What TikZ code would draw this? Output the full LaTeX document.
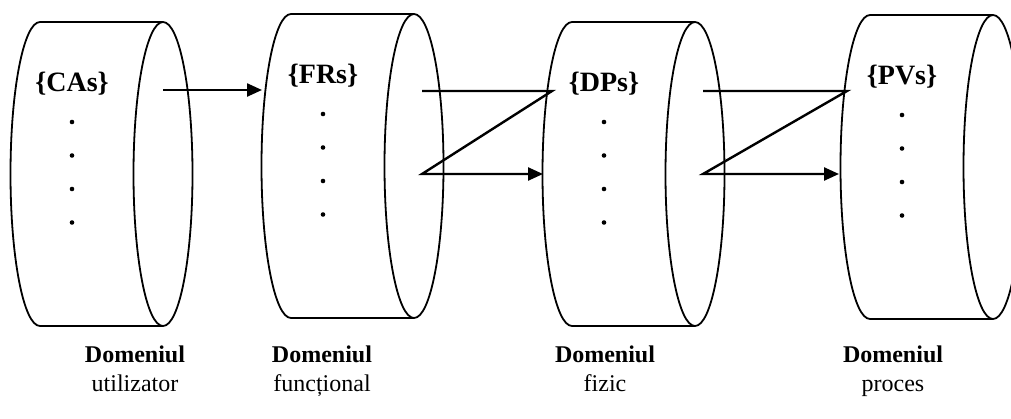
\documentclass[tikz,border=0pt]{standalone}
\usepackage{fontspec}
\setmainfont{Liberation Serif}
\usetikzlibrary{arrows.meta}

% A drum lying on its side: #1 name, #2 left x, #3 top y, #4 bottom y, #5 set label
\newcommand\drum[5]{%
  \draw[drumline] (#2,#3) -- ({#2+123},#3)
    (#2,#4) -- ({#2+123},#4)
    (#2,#3) arc[start angle=90, end angle=270, x radius=29.5pt, y radius=152pt];
  \draw[drumline] ({#2+123},{(#3+#4)/2}) ellipse[x radius=29.5pt, y radius=152pt];
  \node[setlabel] (#1) at ({#2+32},{#3+69}) {\{#5\}};
  \foreach \k/\dy in {1/100,2/133.5,3/167,4/200.5}
    \node[dotmark] (#1-dot\k) at ({#2+32},{#3+\dy}) {};
}

\begin{document}
\begin{tikzpicture}[x=1pt,y=-1pt,
  drumline/.style={line width=1.8pt},
  flow/.style={line width=2.4pt},
  tip/.style={-{Triangle[length=15pt,width=13pt]}},
  setlabel/.style={font=\fontsize{28}{30}\selectfont\bfseries, anchor=base, inner sep=0pt},
  dotmark/.style={circle, fill=black, inner sep=0pt, minimum size=4.6pt},
  caption/.style={align=center, anchor=base, inner sep=0pt, font=\fontsize{24}{29}\selectfont}]
\useasboundingbox (0,0) rectangle (1011,418);

\drum{CAs}{40}{22}{326}{CAs}
\drum{FRs}{291}{14}{318}{FRs}
\drum{DPs}{572}{22}{326}{DPs}
\drum{PVs}{870}{15}{319}{PVs}

% mapping arrows between the domains
\coordinate (m1s) at (163,90);
\coordinate (m1e) at (262,90);
\draw[flow,tip] (m1s) -- (m1e);

\coordinate (z1a) at (422,91);
\coordinate (z1b) at (552,91);
\coordinate (z1c) at (422,174);
\coordinate (z1d) at (543,174);
\draw[flow,tip] (z1a) -- (z1b) -- (z1c) -- (z1d);

\coordinate (z2a) at (703,91);
\coordinate (z2b) at (847,91);
\coordinate (z2c) at (703,174);
\coordinate (z2d) at (839,174);
\draw[flow,tip] (z2a) -- (z2b) -- (z2c) -- (z2d);

% domain captions (base anchor sits on the second line)
\node[caption] (d1) at (135,391) {\textbf{Domeniul}\\utilizator};
\node[caption] (d2) at (322,391) {\textbf{Domeniul}\\funcțional};
\node[caption] (d3) at (605,391) {\textbf{Domeniul}\\fizic};
\node[caption] (d4) at (893,391) {\textbf{Domeniul}\\proces};
\end{tikzpicture}
\end{document}
